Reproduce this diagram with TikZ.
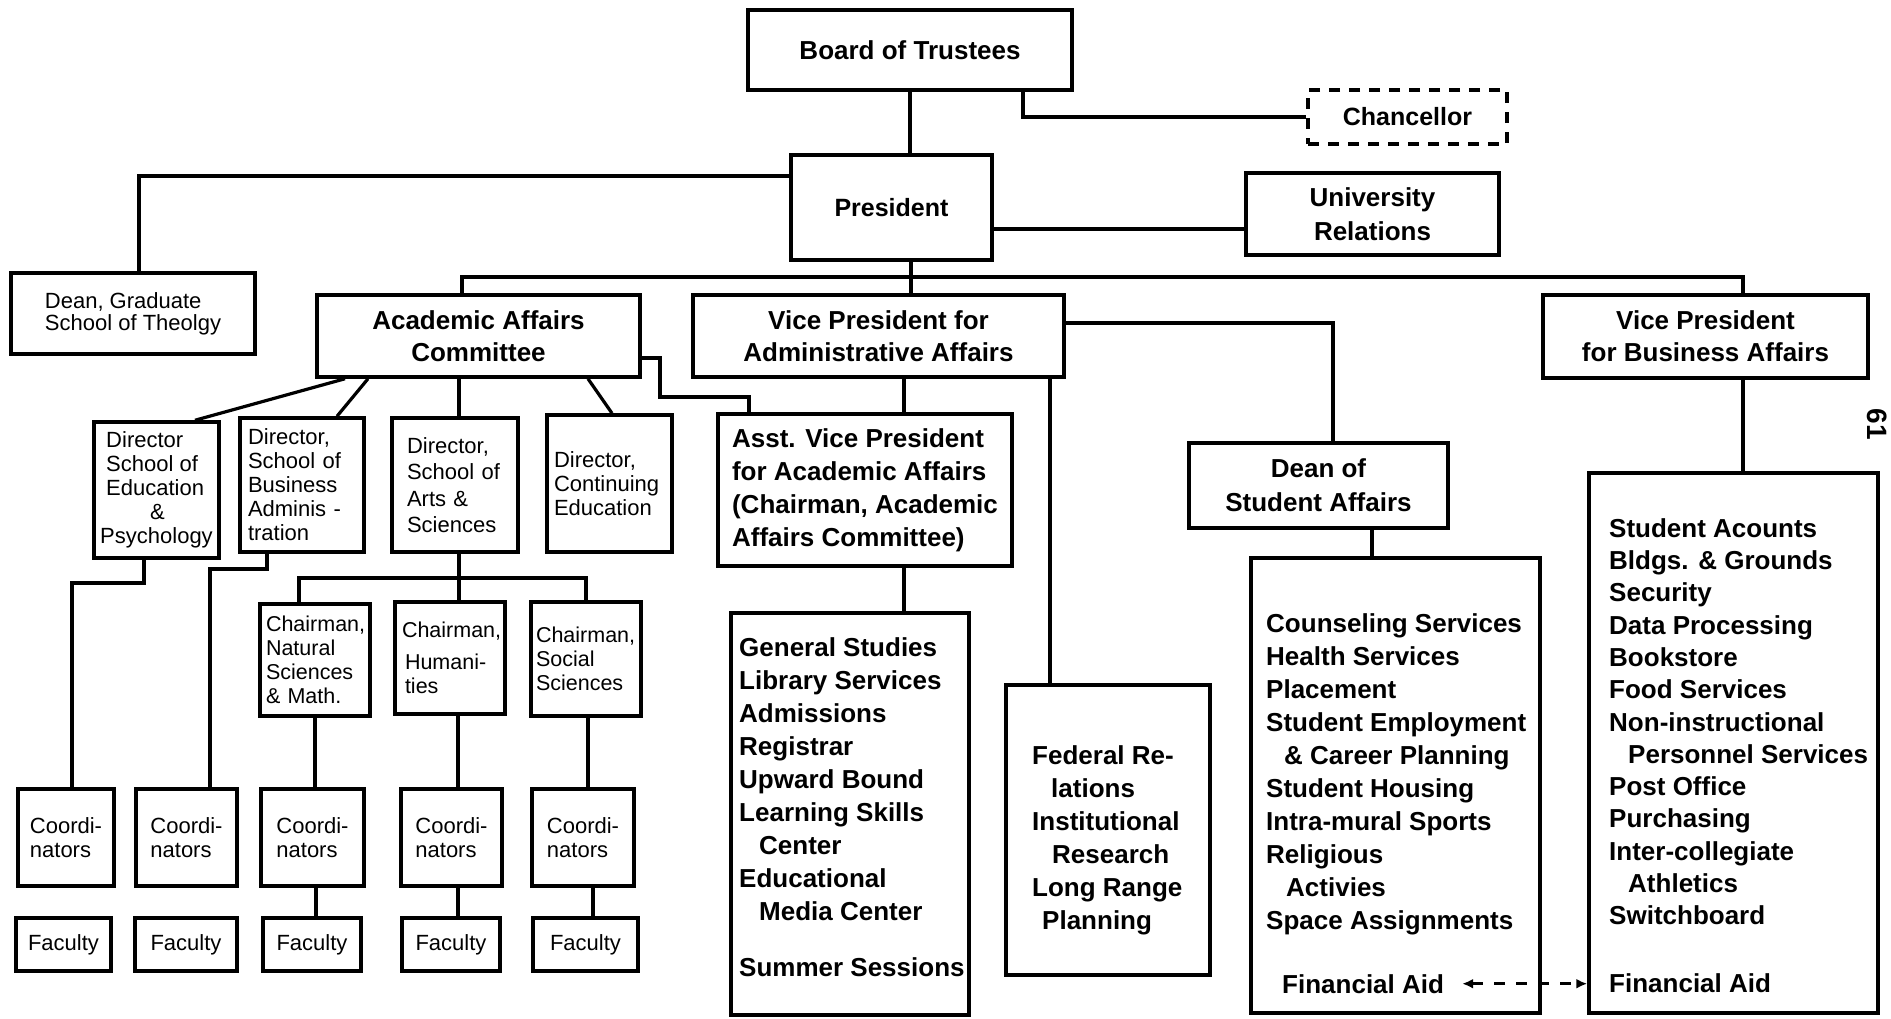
\documentclass[tikz,border=0pt]{standalone}
\usepackage{fontspec}
\setmainfont{Liberation Sans}
\usetikzlibrary{arrows.meta,calc}
\tikzset{
 box/.style={draw, line width=3.5pt, inner sep=0pt, align=center},
 big/.style={font=\bfseries\fontsize{26}{32}\selectfont},
 small/.style={font=\fontsize{22}{24}\selectfont},
 chair/.style={font=\fontsize{21.5}{24}\selectfont},
 conn/.style={line width=3.2pt},
 listtext/.style={inner sep=0pt, anchor=north west, align=left, font=\bfseries\fontsize{26}{33}\selectfont},
 fa/.style={line width=3pt, dash pattern=on 11pt off 11pt, {Latex[length=11pt,width=10pt]}-{Latex[length=11pt,width=10pt]}},
}
\begin{document}
\begin{tikzpicture}[x=1pt,y=-1pt]
\useasboundingbox (0,0) rectangle (1891,1018);
\fill[white] (0,0) rectangle (1891,1018);

% top level
\node[box,big,minimum width=324pt,minimum height=80pt] (board) at (910,50) {Board of Trustees};
\node[box,dash pattern=on 11pt off 9pt,minimum width=199pt,minimum height=54pt,font=\bfseries\fontsize{25}{30}\selectfont] (chanc) at (1407.5,117) {Chancellor};
\node[box,minimum width=201pt,minimum height=105pt,font=\bfseries\fontsize{25}{30}\selectfont] (pres) at (891.5,207.5) {President};
\node[box,big,minimum width=253pt,minimum height=82pt,font=\bfseries\fontsize{26}{34}\selectfont] (ur) at (1372.5,214) {University\\Relations};
\node[box,align=left,minimum width=244pt,minimum height=81pt,font=\fontsize{22}{22}\selectfont] (deang) at (133,313.5) {Dean, Graduate\\School of Theolgy};
\node[box,big,minimum width=323pt,minimum height=82pt] (aac) at (478.5,336) {Academic Affairs\\Committee};
\node[box,big,minimum width=371pt,minimum height=82pt] (vpadm) at (878.5,336) {Vice President for\\Administrative Affairs};
\node[box,big,minimum width=325pt,minimum height=83pt] (vpbus) at (1705.5,336.5) {Vice President\\for Business Affairs};
\node[box,align=left,minimum width=294pt,minimum height=152pt,font=\bfseries\fontsize{26}{33}\selectfont] (asstvp) at (865,490) {Asst. Vice President\\for Academic Affairs\\(Chairman, Academic\\Affairs Committee)};
\node[box,minimum width=259pt,minimum height=85pt,font=\bfseries\fontsize{26}{34}\selectfont] (dean) at (1318.5,485.5) {Dean of\\Student Affairs};

% directors
\node[box,small,align=left,minimum width=125pt,minimum height=136pt] (dirEd) at (156.5,490) {\hspace*{6pt}Director\\\hspace*{6pt}School of\\\hspace*{6pt}Education\\\hspace*{50pt}\&\\Psychology};
\node[box,small,align=left,text width=108pt,inner xsep=8pt,minimum height=134pt] (dirBus) at (302,485) {Director,\\School of\\Business\\Adminis -\\tration};
\node[box,align=left,text width=96pt,inner xsep=15pt,minimum height=134pt,font=\fontsize{22}{26.5}\selectfont] (dirArts) at (455,485) {Director,\\School of\\Arts \&\\Sciences};
\node[box,small,align=left,text width=111pt,inner xsep=7pt,minimum height=137pt] (dirCont) at (609.5,483.5) {Director,\\Continuing\\Education};

% chairmen
\node[box,chair,align=left,text width=98pt,inner xsep=6pt,minimum height=112pt] (chNat) at (315,660) {Chairman,\\Natural\\Sciences\\\& Math.};
\node[box,chair,align=left,text width=96pt,inner xsep=7pt,minimum height=112pt] (chHum) at (450,658) {Chairman,\\[8pt]\hspace*{3pt}Humani-\\\hspace*{3pt}ties};
\node[box,chair,align=left,text width=100pt,inner xsep=5pt,minimum height=114pt] (chSoc) at (586,659) {Chairman,\\Social\\Sciences};

% coordinators
\node[box,small,align=left,minimum width=96pt,minimum height=97pt] (co1) at (66,837.5) {Coordi-\\nators};
\node[box,small,align=left,minimum width=101pt,minimum height=97pt] (co2) at (186.5,837.5) {Coordi-\\nators};
\node[box,small,align=left,minimum width=103pt,minimum height=97pt] (co3) at (312.5,837.5) {Coordi-\\nators};
\node[box,small,align=left,minimum width=101pt,minimum height=97pt] (co4) at (451.5,837.5) {Coordi-\\nators};
\node[box,small,align=left,minimum width=102pt,minimum height=97pt] (co5) at (583,837.5) {Coordi-\\nators};

% faculty
\node[box,small,minimum width=95pt,minimum height=53pt] (fa1) at (63.5,944.5) {Faculty};
\node[box,small,minimum width=102pt,minimum height=53pt] (fa2) at (186,944.5) {Faculty};
\node[box,small,minimum width=98pt,minimum height=53pt] (fa3) at (312,944.5) {Faculty};
\node[box,small,minimum width=98pt,minimum height=53pt] (fa4) at (451,944.5) {Faculty};
\node[box,small,minimum width=105pt,minimum height=53pt] (fa5) at (585.5,944.5) {Faculty};

% list boxes
\node[box,minimum width=238pt,minimum height=402pt] (genlist) at (850,814) {};
\node[listtext] (gentext) at (739,633) {\strut General Studies\\Library Services\\Admissions\\Registrar\\Upward Bound\\Learning Skills\\\hspace*{20pt}Center\\Educational\\\hspace*{20pt}Media Center\\[23pt]Summer Sessions};

\node[box,minimum width=204pt,minimum height=290pt] (fed) at (1108,830) {};
\node[listtext] (fedtext) at (1032,741) {\strut Federal Re-\\\hspace*{19pt}lations\\Institutional\\\hspace*{20pt}Research\\Long Range\\\hspace*{10pt}Planning};

\node[box,minimum width=289pt,minimum height=455pt] (deanlist) at (1395.5,785.5) {};
\node[listtext] (deantext) at (1266,609) {\strut Counseling Services\\Health Services\\Placement\\Student Employment\\\hspace*{18pt}\& Career Planning\\Student Housing\\Intra-mural Sports\\Religious\\\hspace*{20pt}Activies\\Space Assignments};
\node[inner sep=0pt,anchor=base west,font=\bfseries\fontsize{26}{33}\selectfont] (faL) at (1282,993) {Financial Aid};

\node[box,minimum width=289pt,minimum height=540pt] (buslist) at (1733.5,743) {};
\node[listtext,font=\bfseries\fontsize{26}{32.3}\selectfont] (bustext) at (1609,514.4) {\strut Student Acounts\\Bldgs. \& Grounds\\Security\\Data Processing\\Bookstore\\Food Services\\Non-instructional\\\hspace*{19pt}Personnel Services\\Post Office\\Purchasing\\Inter-collegiate\\\hspace*{19pt}Athletics\\Switchboard};
\node[inner sep=0pt,anchor=base west,font=\bfseries\fontsize{26}{33}\selectfont] (faR) at (1609,992) {Financial Aid};

\node[font=\bfseries\fontsize{28}{28}\selectfont,rotate=-90] (pg) at (1877,424) {61};

% connectors
\coordinate (busL) at (462,277);
\coordinate (busR) at (1743,277);
\coordinate (artsbus) at (459,578);
\draw[conn] (board.south) -- (board.south |- pres.north);
\draw[conn] (board.south -| 1023,0) |- (chanc.west);
\draw[conn] (pres.east |- 0,229) -- (ur.west |- 0,229);
\draw[conn] (pres.west |- 0,176) -| (deang.north -| 139,0);
\draw[conn] (pres.south -| 911,0) -- (vpadm.north -| 911,0);
\draw[conn] (aac.north -| busL) -- (busL) -- (busR) -- (vpbus.north -| busR);
\draw[conn] (aac.east |- 0,358) -- (660,358) -- (660,397) -- (749,397) -- (asstvp.north -| 749,0);
\draw[conn] (vpadm.south -| 904,0) -- (asstvp.north -| 904,0);
\draw[conn] (vpadm.south -| 1050,0) -- (fed.north -| 1050,0);
\draw[conn] (vpadm.east |- 0,323) -| (dean.north -| 1333,0);
\draw[conn] (dean.south -| 1372,0) -- (deanlist.north -| 1372,0);
\draw[conn] (vpbus.south -| busR) -- (buslist.north -| busR);
\draw[conn] (asstvp.south -| 904,0) -- (genlist.north -| 904,0);
\draw[conn] (aac.south -| 345,0) -- (dirEd.north -| 195,0);
\draw[conn] (aac.south -| 368,0) -- (dirBus.north -| 337,0);
\draw[conn] (aac.south -| 459,0) -- (dirArts.north -| 459,0);
\draw[conn] (aac.south -| 588,0) -- (dirCont.north -| 612,0);
\draw[conn] (dirEd.south -| 144,0) -- (144,583) -- (72,583) -- (co1.north -| 72,0);
\draw[conn] (dirBus.south -| 267,0) -- (267,569) -- (210,569) -- (co2.north -| 210,0);
\draw[conn] (dirArts.south -| artsbus) -- (artsbus);
\draw[conn] (chNat.north -| 299,0) -- (299,578) -- (586,578) -- (chSoc.north -| 586,0);
\draw[conn] (artsbus) -- (chHum.north -| artsbus);
\draw[conn] (chNat.south -| 315,0) -- (co3.north -| 315,0);
\draw[conn] (chHum.south -| 458,0) -- (co4.north -| 458,0);
\draw[conn] (chSoc.south -| 588,0) -- (co5.north -| 588,0);
\draw[conn] (co3.south -| 316,0) -- (fa3.north -| 316,0);
\draw[conn] (co4.south -| 458,0) -- (fa4.north -| 458,0);
\draw[conn] (co5.south -| 593,0) -- (fa5.north -| 593,0);
\draw[fa] ([xshift=18pt]faL.east) -- (buslist.west |- faL.east);
\end{tikzpicture}
\end{document}
